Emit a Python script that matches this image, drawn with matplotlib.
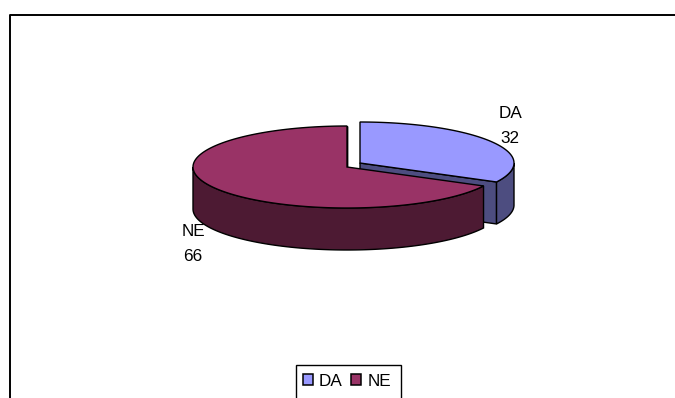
import numpy as np
import matplotlib
matplotlib.use("Agg")
import matplotlib.pyplot as plt
from matplotlib.patches import Patch, Rectangle

plt.rcParams['font.family'] = ['Liberation Sans', 'DejaVu Sans']

# data
labels = ["DA", "NE"]
values = [32, 66]
top_colors = ["#9999FF", "#993366"]
side_colors = ["#4D4D80", "#4D1A33"]

# pie layout in pixels
cx, cy = 347, 167
rx, ry = 154, 41
depth = 42
offsets = [(13, -4), (0, 0)]
label_pos = [(510, 126), (193, 244)]


def rim(a, b, dx, dy):
    # points on the ellipse, angle is clockwise from 12 o'clock
    t = np.linspace(a, b, 200)
    return cx + dx + rx * np.sin(t), cy + dy - ry * np.cos(t)


fig = plt.figure(figsize=(6.75, 3.98), dpi=100)
ax = fig.add_axes([0, 0, 1, 1])
ax.set_xlim(0, 675)
ax.set_ylim(398, 0)
ax.axis("off")

# frame, cut off at the right and bottom
ax.plot([9.5, 9.5, 675], [398, 15, 15], color="black", lw=1.4, zorder=1)

edges = np.cumsum([0] + values) / sum(values) * 2 * np.pi
lw = 1.0

for i in range(len(values)):
    a, b = edges[i], edges[i + 1]
    dx, dy = offsets[i]
    x, y = rim(a, b, dx, dy)
    z = 2 + i * 3
    # cut face along the end of the slice
    ex, ey = x[-1], y[-1]
    ax.fill([cx + dx, ex, ex, cx + dx],
            [cy + dy, ey, ey + depth, cy + dy + depth],
            facecolor=side_colors[i], edgecolor="black", lw=lw, zorder=z)
    # outer wall, only the part facing front
    lo, hi = max(a, np.pi / 2), min(b, 3 * np.pi / 2)
    wx, wy = rim(lo, hi, dx, dy)
    ax.fill(np.r_[wx, wx[::-1]], np.r_[wy, wy[::-1] + depth],
            facecolor=side_colors[i], edgecolor="black", lw=lw, zorder=z + 1)
    # top
    ax.fill(np.r_[cx + dx, x], np.r_[cy + dy, y],
            facecolor=top_colors[i], edgecolor="black", lw=lw, zorder=z + 2)
    ax.text(label_pos[i][0], label_pos[i][1], f"{labels[i]}\n{values[i]}",
            ha="center", va="center", fontsize=12.3, linespacing=1.78,
            color="black", zorder=10)

# legend box runs past the bottom of the picture
ax.add_patch(Rectangle((296, 365), 105, 50, facecolor="white",
                       edgecolor="black", lw=1.0, zorder=11))
handles = [Patch(facecolor=c, edgecolor="black", lw=1.1) for c in top_colors]
leg = ax.legend(handles, labels, ncol=2, loc="center left",
                bbox_to_anchor=(303 / 675, 1 - 381 / 398), borderaxespad=0,
                fontsize=12.3, frameon=False, handlelength=0.58,
                handleheight=0.58, handletextpad=0.36, columnspacing=0.5,
                borderpad=0)
leg.set_zorder(12)

plt.savefig("out.png", dpi=100)
